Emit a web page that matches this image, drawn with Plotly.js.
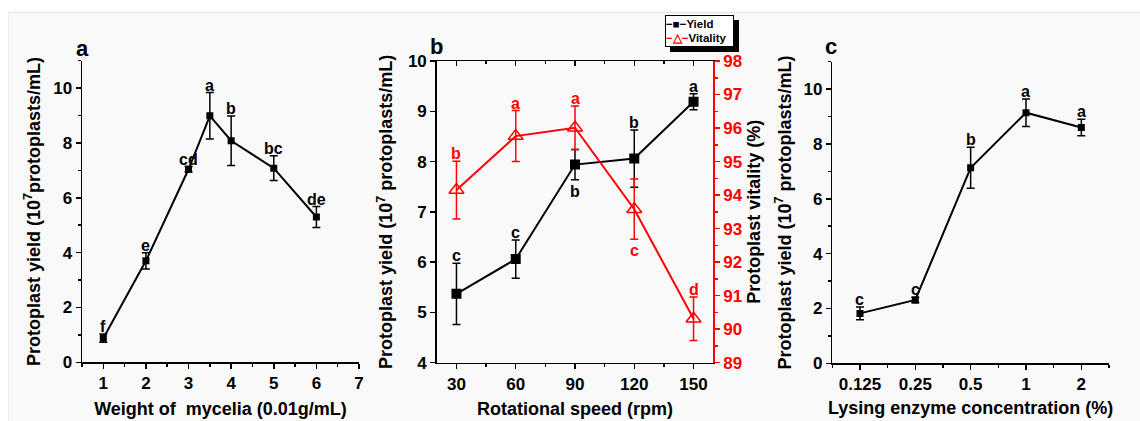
<!DOCTYPE html>
<html>
<head>
<meta charset="utf-8">
<script src="https://cdn.plot.ly/plotly-3.0.1.min.js"></script>
<style>
  html, body { margin: 0; padding: 0; background: #ffffff; }
  #bg { position: absolute; left: 8px; top: 12px; width: 1132px; height: 409px; background: #f9f9f9; border-top: 1px solid #e4e4e4; border-left: 1px solid #eeeeee; box-sizing: border-box; }
  #chart { position: absolute; left: 0; top: 0; width: 1140px; height: 421px; }
</style>
</head>
<body>
<div id="bg"></div>
<div id="chart"></div>
<script>
// ---- Panel a: weight of mycelia ----
const aX = [1, 2, 3, 3.5, 4, 5, 6];
const aYield = [0.88, 3.70, 7.04, 8.99, 8.08, 7.08, 5.30];
const aErr = [0.15, 0.30, 0.10, 0.85, 0.90, 0.45, 0.38];
const aLetters = ['f', 'e', 'cd', 'a', 'b', 'bc', 'de'];

// ---- Panel b: rotational speed ----
const bX = [30, 60, 90, 120, 150];
const bYield = [5.37, 6.06, 7.94, 8.06, 9.19];
const bYieldErr = [0.61, 0.38, 0.30, 0.57, 0.16];
const bYieldLetters = ['c', 'c', 'b', 'b', 'a'];
const bVitality = [94.15, 95.76, 96.01, 93.58, 90.31];
const bVitalityErr = [0.86, 0.76, 0.65, 0.90, 0.65];
const bVitalityLetters = ['b', 'a', 'a', 'c', 'd'];
const bSeriesNames = ['Yield', 'Vitality'];

// ---- Panel c: lysing enzyme concentration ----
const cCategories = ['0.125', '0.25', '0.5', '1', '2'];
const cYield = [1.82, 2.31, 7.13, 9.14, 8.60];
const cErr = [0.23, 0.10, 0.75, 0.50, 0.30];
const cLetters = ['c', 'c', 'b', 'a', 'a'];

const FONT = '"Liberation Sans", Arial, Helvetica, sans-serif';
const RED = '#ff0000';
const cIdx = cCategories.map((_, i) => i);

function errBar(arr, color) {
  return { type: 'data', array: arr, visible: true, color: color, thickness: 1.5, width: 4 };
}

const traces = [
  { x: aX, y: aYield, xaxis: 'x', yaxis: 'y', type: 'scatter', mode: 'lines+markers',
    line: { color: '#000', width: 2 }, marker: { symbol: 'square', size: 7, color: '#000' },
    error_y: errBar(aErr, '#000') },
  { x: bX, y: bYield, xaxis: 'x2', yaxis: 'y2', type: 'scatter', mode: 'lines+markers', name: bSeriesNames[0],
    line: { color: '#000', width: 2 }, marker: { symbol: 'square', size: 10, color: '#000' },
    error_y: errBar(bYieldErr, '#000') },
  { x: bX, y: bVitality, xaxis: 'x2', yaxis: 'y3', type: 'scatter', mode: 'lines+markers', name: bSeriesNames[1],
    line: { color: RED, width: 2 }, marker: { symbol: 'triangle-up-open', size: 13, color: RED, line: { width: 1.5, color: RED } },
    error_y: errBar(bVitalityErr, RED) },
  { x: cIdx, y: cYield, xaxis: 'x3', yaxis: 'y4', type: 'scatter', mode: 'lines+markers',
    line: { color: '#000', width: 2 }, marker: { symbol: 'square', size: 7, color: '#000' },
    error_y: errBar(cErr, '#000') },
  // empty trace to create the top frame axis of panel b
  { x: [], y: [], xaxis: 'x4', yaxis: 'y2', type: 'scatter', mode: 'markers', hoverinfo: 'skip' }
];

const tickFont = { family: FONT, size: 17, color: '#000', weight: 'bold' };
const titleFont = { family: FONT, size: 18, color: '#000', weight: 'bold' };

function baseAxis(extra) {
  return Object.assign({
    showline: true, linecolor: '#000', linewidth: 1.5, mirror: false,
    ticks: 'outside', ticklen: 5, tickwidth: 1.5, tickcolor: '#000',
    showgrid: false, zeroline: false, automargin: false, fixedrange: true,
    tickfont: tickFont
  }, extra);
}

const W = 1140, H = 421;
const dx = (a, b) => [a / W, b / W];
const dy = (top, bottom) => [(H - bottom) / H, (H - top) / H];

const layout = {
  width: W, height: H,
  margin: { l: 0, r: 0, t: 0, b: 0 },
  paper_bgcolor: 'rgba(0,0,0,0)', plot_bgcolor: 'rgba(0,0,0,0)',
  font: { family: FONT, color: '#000' },
  showlegend: false,
  xaxis: baseAxis({ domain: dx(82, 359), anchor: 'y', range: [0.5, 7], tick0: 0, dtick: 1,
    minor: { dtick: 0.5, ticks: 'outside', ticklen: 3, tickwidth: 1.5, tickcolor: '#000' },
    title: { text: 'Weight of  mycelia (0.01g/mL)', font: titleFont, standoff: 10 } }),
  yaxis: baseAxis({ domain: dy(60.7, 362.3), anchor: 'x', range: [0, 11], tick0: 0, dtick: 2,
    minor: { dtick: 1, ticks: 'outside', ticklen: 3, tickwidth: 1.5, tickcolor: '#000' },
    title: { text: 'Protoplast yield (10<sup>7</sup>protoplasts/mL)', font: titleFont, standoff: 8 } }),
  xaxis2: baseAxis({ domain: dx(436.7, 713.3), anchor: 'y2', range: [20, 160], tick0: 0, dtick: 30,
    minor: { dtick: 15, ticks: 'outside', ticklen: 3, tickwidth: 1.5, tickcolor: '#000' },
    title: { text: 'Rotational speed (rpm)', font: titleFont, standoff: 10 } }),
  xaxis4: baseAxis({ domain: dx(436.7, 713.3), anchor: 'y2', overlaying: 'x2', side: 'top', range: [20, 160],
    tick0: 0, dtick: 30, ticks: 'inside', showticklabels: false,
    minor: { dtick: 15, ticks: 'inside', ticklen: 3, tickwidth: 1.5, tickcolor: '#000' } }),
  yaxis2: baseAxis({ domain: dy(61, 362.7), anchor: 'x2', range: [4, 10], tick0: 0, dtick: 1,
    title: { text: 'Protoplast yield (10<sup>7</sup> protoplasts/mL)', font: titleFont, standoff: 10 } }),
  yaxis3: baseAxis({ domain: dy(61, 362.7), anchor: 'x2', overlaying: 'y2', side: 'right', range: [89, 98],
    tick0: 0, dtick: 1, linecolor: RED, tickcolor: RED,
    tickfont: Object.assign({}, tickFont, { color: RED }),
    minor: { dtick: 0.5, ticks: 'outside', ticklen: 3, tickwidth: 1.5, tickcolor: RED },
    title: { text: 'Protoplast vitality (%)', font: titleFont, standoff: 6 } }),
  xaxis3: baseAxis({ domain: dx(832.3, 1109), anchor: 'y4', range: [-0.5, 4.5],
    tickmode: 'array', tickvals: cIdx, ticktext: cCategories,
    minor: { tick0: -0.5, dtick: 0.5, ticks: 'outside', ticklen: 3, tickwidth: 1.5, tickcolor: '#000' },
    title: { text: 'Lysing enzyme concentration (%)', font: titleFont, standoff: 8 } }),
  yaxis4: baseAxis({ domain: dy(61.7, 363.3), anchor: 'x3', range: [0, 11], tick0: 0, dtick: 2,
    minor: { dtick: 1, ticks: 'outside', ticklen: 3, tickwidth: 1.5, tickcolor: '#000' },
    title: { text: 'Protoplast yield (10<sup>7</sup> protoplasts/mL)', font: titleFont, standoff: 7 } }),
  annotations: [],
  shapes: []
};

const letterFont = { family: FONT, size: 16, color: '#000', weight: 'bold' };
function addLetters(xs, ys, errs, letters, xref, yref, color, belowSet) {
  letters.forEach((t, i) => {
    const below = belowSet.includes(i);
    layout.annotations.push({
      x: xs[i], y: below ? ys[i] - errs[i] : ys[i] + errs[i], xref: xref, yref: yref,
      text: t, showarrow: false, xanchor: 'center', yanchor: below ? 'top' : 'bottom',
      yshift: below ? -1 : -3, font: Object.assign({}, letterFont, { color: color })
    });
  });
}
addLetters(aX, aYield, aErr, aLetters, 'x', 'y', '#000', []);
addLetters(bX, bYield, bYieldErr, bYieldLetters, 'x2', 'y2', '#000', [2]);
addLetters(bX, bVitality, bVitalityErr, bVitalityLetters, 'x2', 'y3', RED, [3]);
addLetters(cIdx, cYield, cErr, cLetters, 'x3', 'y4', '#000', []);

// panel letters
[['a', 82.7, 48], ['b', 436.7, 46.7], ['c', 831, 46.7]].forEach(([t, px, py]) => {
  layout.annotations.push({ x: px / W, y: 1 - py / H, xref: 'paper', yref: 'paper', text: t,
    showarrow: false, xanchor: 'center', yanchor: 'middle',
    font: { family: FONT, size: 22, color: '#000', weight: 'bold' } });
});

// legend box for panel b (with drop shadow)
const LG = { left: 665, top: 15, right: 734, bottom: 47 };
layout.shapes.push({ type: 'rect', xref: 'paper', yref: 'paper', layer: 'above',
  x0: (LG.left + 5) / W, x1: (LG.right + 5) / W, y0: 1 - (LG.bottom + 5) / H, y1: 1 - (LG.top + 5) / H,
  fillcolor: '#000', line: { width: 0 } });
layout.annotations.push({
  x: LG.left / W, y: 1 - LG.top / H, xref: 'paper', yref: 'paper', xanchor: 'left', yanchor: 'top',
  width: LG.right - LG.left - 2, height: LG.bottom - LG.top - 2, align: 'left', valign: 'middle',
  showarrow: false, bgcolor: '#ffffff', bordercolor: '#000', borderwidth: 1, borderpad: 0,
  font: { family: FONT, size: 11.5, color: '#000', weight: 'bold' },
  text: '<b>\u2212\u25A0\u2212' + bSeriesNames[0] + '</b><br><b><span style="color:' + RED + '">\u2212\u25B3\u2212</span>' + bSeriesNames[1] + '</b>'
});

Plotly.newPlot('chart', traces, layout, { displayModeBar: false, staticPlot: true });
</script>
</body>
</html>
